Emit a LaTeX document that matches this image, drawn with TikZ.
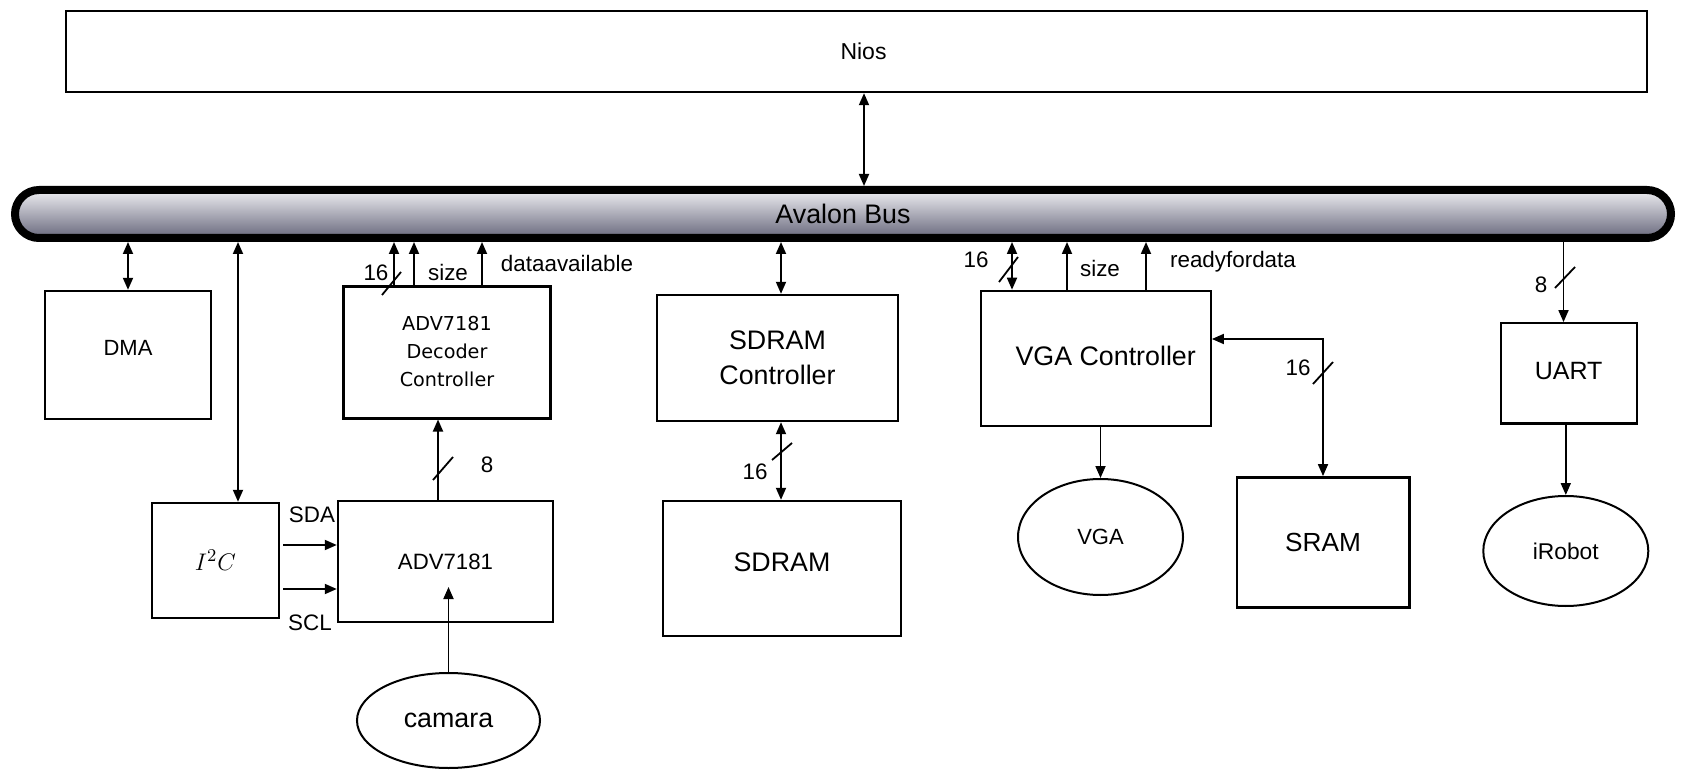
\documentclass[tikz,border=0pt]{standalone}
\usepackage{fontspec}
\setmainfont{Liberation Sans}
\newfontfamily\decfont{DejaVu Sans}
\usetikzlibrary{arrows.meta, calc, shapes.geometric}

\definecolor{busTop}{RGB}{238,238,242}
\definecolor{busBot}{RGB}{104,104,124}

\begin{document}
\begin{tikzpicture}[
  x=0.5pt, y=-0.5pt,
  blk/.style={draw, line width=1.2pt, inner sep=0pt},
  oval/.style={ellipse, draw, line width=1pt, inner sep=0pt},
  bus/.style={draw, line width=4pt, rounded corners=12pt, inner sep=0pt,
              top color=busTop, bottom color=busBot},
  lbl/.style={inner sep=0pt, font=\fontsize{11.2}{13}\selectfont},
  wire/.style={line width=0.9pt},
  >={Triangle[length=6pt,width=5pt]}
]
\useasboundingbox (0,0) rectangle (1682,770);

\node[blk, minimum width=790.5pt, minimum height=40.5pt,
      font=\fontsize{11.5}{14}\selectfont] (nios) at (856.5,51.5) {\hspace*{7pt}Nios};
\node[bus, minimum width=828pt, minimum height=24pt,
      font=\fontsize{13.4}{16}\selectfont] (bus) at (843,214) {Avalon Bus};

\node[blk, minimum width=83pt, minimum height=64pt,
      font=\fontsize{11}{13}\selectfont] (dma) at (128,355) {\raisebox{7.5pt}{DMA}};
\node[blk, minimum width=103.5pt, minimum height=65.8pt,
      font=\decfont\fontsize{9.6}{14}\selectfont] (dec) at (447,352.5)
      {\raisebox{-6pt}{\begin{tabular}{@{}c@{}}ADV7181\\Decoder\\Controller\end{tabular}}};
\node[blk, minimum width=63.5pt, minimum height=57.5pt,
      font=\fontsize{12.5}{15}\selectfont] (i2c) at (215.5,560.5) {$I^2C$};
\node[blk, minimum width=107.5pt, minimum height=60.5pt,
      font=\fontsize{11.1}{13}\selectfont] (adv) at (445.5,561.5) {ADV7181};
\node[oval, minimum width=91.5pt, minimum height=47.5pt,
      font=\fontsize{13.4}{16}\selectfont] (cam) at (448.5,720.5) {camara};

\node[blk, minimum width=120.5pt, minimum height=63pt, align=center,
      font=\fontsize{13.4}{17.5}\selectfont] (sdc) at (777.5,358) {SDRAM\\Controller};
\node[blk, minimum width=119pt, minimum height=67.5pt,
      font=\fontsize{13.4}{16}\selectfont] (sdram) at (782,568.5) {\raisebox{6.75pt}{SDRAM}};

\node[blk, minimum width=115pt, minimum height=67.4pt,
      font=\fontsize{13.4}{16}\selectfont] (vgac) at (1095.7,358.3)
      {\hspace*{10pt}\raisebox{2.5pt}{VGA Controller}};
\node[oval, minimum width=82.5pt, minimum height=58pt,
      font=\fontsize{11}{13}\selectfont] (vga) at (1100.5,537) {VGA};
\node[blk, minimum width=86.3pt, minimum height=65pt,
      font=\fontsize{13.1}{16}\selectfont] (sram) at (1323,542.3) {SRAM};

\node[blk, minimum width=68pt, minimum height=50pt,
      font=\fontsize{12.5}{15}\selectfont] (uart) at (1568.7,373.3) {\raisebox{2.5pt}{UART}};
\node[oval, minimum width=82.5pt, minimum height=55pt,
      font=\fontsize{11.4}{14}\selectfont] (irobot) at (1565.8,551) {iRobot};

\coordinate (xn) at (864,0);
\coordinate (xi) at (238,0);
\coordinate (xd1) at (394,0);
\coordinate (xd2) at (414,0);
\coordinate (xd3) at (482,0);
\coordinate (xa) at (438,0);
\coordinate (ysda) at (0,545);
\coordinate (yscl) at (0,589);
\coordinate (camtip) at (0,587);
\coordinate (xs) at (781,0);
\coordinate (xv1) at (1012,0);
\coordinate (xv2) at (1067,0);
\coordinate (xv3) at (1146,0);
\coordinate (ysr) at (0,339);
\coordinate (xu) at (1563.5,0);

\draw[wire, <->] (nios.south -| xn) -- (bus.north -| xn);

\draw[wire, <->] (bus.south -| dma.north) -- (dma.north);
\draw[wire, <->] (bus.south -| xi) -- (i2c.north -| xi);

\draw[wire, ->] (dec.north -| xd1) -- (bus.south -| xd1);
\draw[wire, ->] (dec.north -| xd2) -- (bus.south -| xd2);
\draw[wire, ->] (dec.north -| xd3) -- (bus.south -| xd3);
\draw[wire] (382,295) -- (401,272);
\node[lbl] (d16) at (376,273) {16};
\node[lbl] (dsize) at (448,272) {size};
\node[lbl] (davail) at (567,263) {dataavailable};

\draw[wire, ->] (adv.north -| xa) -- (dec.south -| xa);
\draw[wire] (433,480) -- (453,457);
\node[lbl] (a8) at (487,465) {8};

\draw[wire, ->] ($(i2c.east |- ysda)+(3,0)$) -- (adv.west |- ysda);
\draw[wire, ->] ($(i2c.east |- yscl)+(3,0)$) -- (adv.west |- yscl);
\node[lbl] (sda) at (312,515) {SDA};
\node[lbl] (scl) at (310,623) {SCL};

\draw[wire, ->] (cam.north) -- (cam.north |- camtip);

\draw[wire, <->] (bus.south -| xs) -- (sdc.north -| xs);
\draw[wire, <->] (sdc.south -| xs) -- (sdram.north -| xs);
\draw[wire] (772,460) -- (792,443);
\node[lbl] (s16) at (755,472) {16};

\draw[wire, <->] (bus.south -| xv1) -- (vgac.north -| xv1);
\draw[wire, ->] (vgac.north -| xv2) -- (bus.south -| xv2);
\draw[wire, ->] (vgac.north -| xv3) -- (bus.south -| xv3);
\draw[wire] (999,282) -- (1018,257);
\node[lbl] (v16) at (976,260) {16};
\node[lbl] (vsize) at (1100,268) {size};
\node[lbl] (vready) at (1233,262) {readyfordata};

\draw[wire, ->] (vgac.south -| vga.north) -- (vga.north);
\draw[wire, <->] (sram.north) |- (vgac.east |- ysr);
\draw[wire] (1313,384) -- (1333,362);
\node[lbl] (r16) at (1298,368) {16};

\draw[wire, ->] (bus.south -| xu) -- (uart.north -| xu);
\draw[wire] (1555,288) -- (1575,267);
\node[lbl] (u8) at (1541,285) {8};
\draw[wire, ->] (uart.south -| irobot.north) -- (irobot.north);
\end{tikzpicture}
\end{document}
